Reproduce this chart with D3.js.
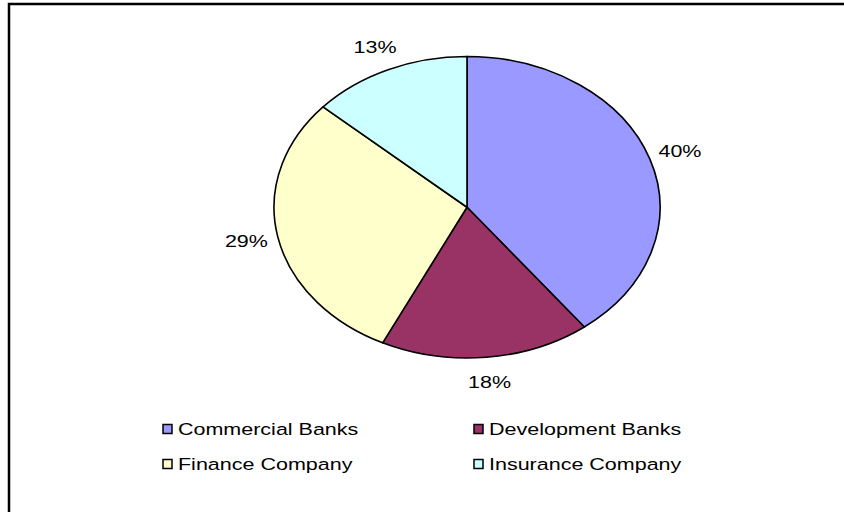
<!DOCTYPE html>
<html>
<head>
<meta charset="utf-8">
<script src="https://cdn.jsdelivr.net/npm/d3@7"></script>
<style>
  html, body { margin: 0; padding: 0; background: #fff; }
  svg { display: block; }
  text { font-family: Arial, "Liberation Sans", sans-serif; fill: #000; }
</style>
</head>
<body>
<svg id="chart" width="844" height="512"></svg>
<script>
// Share of institutions (percent)
const categories = ["Commercial Banks", "Development Banks", "Finance Company", "Insurance Company"];
const shares = [39.6, 17.6, 29.4, 13.4];
const colors = ["#9999FF", "#993366", "#FFFFCC", "#CCFFFF"];

const svg = d3.select("#chart");
const W = 844, H = 512;

// Outer chart frame (runs past the right and bottom edges)
svg.append("rect")
  .attr("x", 9).attr("y", 4)
  .attr("width", 900).attr("height", 600)
  .attr("fill", "#fff")
  .attr("stroke", "#000")
  .attr("stroke-width", 2.5);

// The chart is laid out as a round pie and then widened horizontally
const sx = 193 / 150.75;
const g = svg.append("g").attr("transform", `scale(${sx},1)`);

const cx = 467 / sx, cy = 207.25, R = 150.75;

const pie = d3.pie().sort(null).value(d => d.v)
  .startAngle(0).endAngle(2 * Math.PI);
const data = categories.map((c, i) => ({ c, v: shares[i], col: colors[i] }));
const arcs = pie(data);
const total = d3.sum(shares);
const pct = d3.format(".0%");

const arc = d3.arc().innerRadius(0).outerRadius(R);
const labelArc = d3.arc().innerRadius(R * 1.165).outerRadius(R * 1.165);

const pieG = g.append("g").attr("transform", `translate(${cx},${cy})`);

pieG.selectAll("path.slice")
  .data(arcs)
  .join("path")
  .attr("class", "slice")
  .attr("d", arc)
  .attr("fill", d => d.data.col)
  .attr("stroke", "#000")
  .attr("stroke-width", 1.6)
  .attr("stroke-linejoin", "round")
  .attr("vector-effect", "non-scaling-stroke");

pieG.selectAll("text.lbl")
  .data(arcs)
  .join("text")
  .attr("class", "lbl")
  .attr("transform", d => `translate(${labelArc.centroid(d)})`)
  .attr("text-anchor", "middle")
  .attr("dy", "0.36em")
  .style("font-size", "16.8px")
  .text(d => pct(d.data.v / total));

// Legend: two columns, two rows
const legX = [163 / sx, 474 / sx];
const legY = [429, 464];
const leg = g.selectAll("g.leg")
  .data(data)
  .join("g")
  .attr("class", "leg")
  .attr("transform", (d, i) => `translate(${legX[i % 2]},${legY[Math.floor(i / 2)]})`);

leg.append("rect")
  .attr("x", 0).attr("y", -4.5)
  .attr("width", 9 / sx).attr("height", 9)
  .attr("fill", d => d.col)
  .attr("stroke", "#000")
  .attr("stroke-width", 1.5)
  .attr("vector-effect", "non-scaling-stroke");

leg.append("text")
  .attr("x", 15 / sx)
  .attr("dy", "0.36em")
  .style("font-size", "16.8px")
  .text(d => d.c);
</script>
</body>
</html>
